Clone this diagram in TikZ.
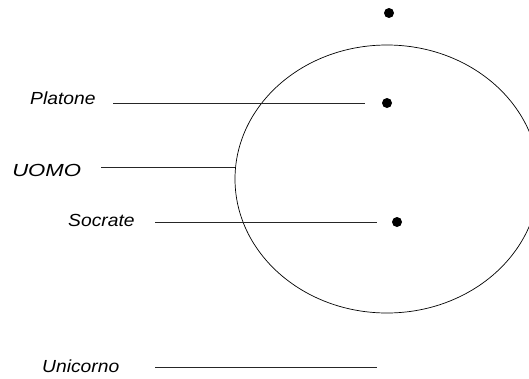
\documentclass[tikz,border=0pt]{standalone}
\usepackage{fontspec}
\setmainfont{Liberation Sans}
\usetikzlibrary{shapes.geometric}
\begin{document}
\begin{tikzpicture}[x=1pt,y=-1pt,
  lbl/.style={anchor=base west,inner sep=0pt,xscale=1.1,font=\itshape\fontsize{17.5}{17.5}\selectfont},
  elt/.style={circle,fill=black,inner sep=0pt,minimum size=10pt},
  wire/.style={line width=0.9pt,draw=black!85},
  setline/.style={line width=0.7pt}]
\useasboundingbox (0,0) rectangle (529,378);
% the set UOMO
\node[ellipse,draw,setline,minimum width=304pt,minimum height=268pt,inner sep=0pt] (uomoset) at (387,179) {};
% individuals
\node[elt] (top) at (389,13) {};
\node[elt] (pdot) at (387,103) {};
\node[elt] (sdot) at (397,222) {};
% labels
\node[lbl] (platone) at (30,104) {Platone};
\node[lbl,xscale=1.15] (uomo) at (12,176) {UOMO};
\node[lbl] (socrate) at (68,226) {Socrate};
\node[lbl] (unicorno) at (42,372) {Unicorno};
% line ends
\coordinate (p0) at (113,103);
\coordinate (p1) at (365,103);
\coordinate (u0) at (101,167);
\coordinate (s0) at (155,222);
\coordinate (s1) at (377,222);
\coordinate (n0) at (155,367);
\coordinate (n1) at (377,367);
\draw[wire] (p0) -- (p1);
\draw[wire] (u0) -- (uomoset.west |- u0);
\draw[wire] (s0) -- (s1);
\draw[wire] (n0) -- (n1);
\end{tikzpicture}
\end{document}
